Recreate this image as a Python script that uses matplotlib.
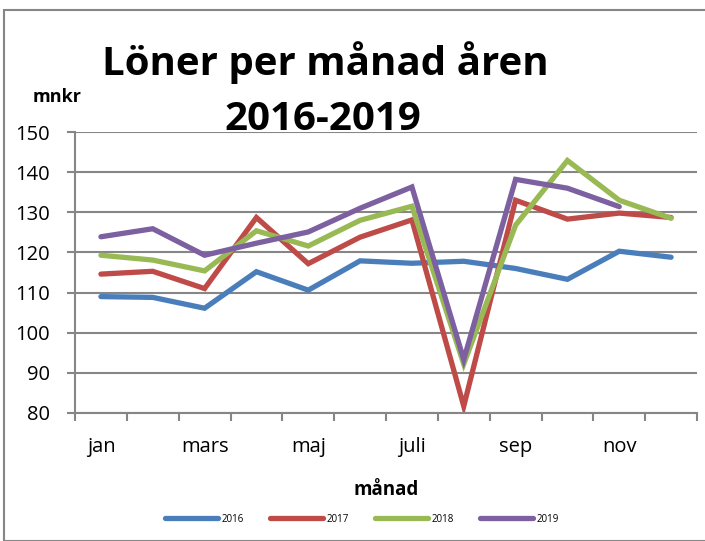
import numpy as np
import matplotlib
matplotlib.use("Agg")
import matplotlib.pyplot as plt
from matplotlib.patches import Rectangle

months = ["jan", "feb", "mars", "april", "maj", "juni", "juli", "aug", "sep", "okt", "nov", "dec"]
shown_labels = ["jan", "", "mars", "", "maj", "", "juli", "", "sep", "", "nov", ""]
years = ["2016", "2017", "2018", "2019"]
v2016 = [109.0, 108.8, 106.1, 115.2, 110.6, 117.9, 117.3, 117.8, 116.0, 113.3, 120.3, 118.8]
v2017 = [114.6, 115.3, 111.0, 128.7, 117.2, 123.8, 128.1, 81.7, 133.0, 128.3, 129.8, 128.7]
v2018 = [119.3, 118.1, 115.4, 125.4, 121.6, 128.0, 131.5, 92.2, 126.8, 142.9, 133.0, 128.5]
v2019 = [123.9, 125.9, 119.3, 122.3, 125.1, 131.0, 136.3, 93.3, 138.2, 136.0, 131.4, np.nan]
colors = ["#4A7EBB", "#BE4B48", "#98B954", "#7D60A0"]

plt.rcParams['font.family'] = ['Open Sans', 'DejaVu Sans']

fig = plt.figure(figsize=(7.05, 5.41), dpi=100)
ax = fig.add_axes([75/705, 1-413/541, (697-75)/705, (413-132)/541])

x = np.arange(len(months))
for vals, c, lab in zip([v2016, v2017, v2018, v2019], colors, years):
    ax.plot(x, vals, color=c, lw=3.8, label=lab, solid_capstyle='round', solid_joinstyle='miter')

ax.set_xlim(-0.5, 11.5)
ax.set_ylim(80, 150)
ax.set_yticks(np.arange(80, 151, 10))
ax.yaxis.grid(True, color="#868686", lw=1.5)
ax.set_axisbelow(True)
ax.tick_params(axis='y', labelsize=14.5, length=5.8, color="#868686", width=1.5, pad=12)

ax.set_xticks(np.arange(-0.5, 12, 1))
ax.set_xticklabels([])
ax.tick_params(axis='x', which='major', length=5.8, color="#868686", width=1.5)
ax.set_xticks(x, minor=True)
ax.set_xticklabels(shown_labels, minor=True)
ax.tick_params(axis='x', which='minor', length=0, labelsize=14.5, pad=17)

for s in ['top', 'right']:
    ax.spines[s].set_visible(False)
for s in ['left', 'bottom']:
    ax.spines[s].set_color("#868686")
    ax.spines[s].set_linewidth(1.5)

ax.set_xlabel("månad", fontsize=13.5, fontweight='bold', labelpad=17)

fig.text(325/705, 1-63/541, "Löner per månad åren", fontsize=29, fontweight='bold', ha='center', va='center')
fig.text(323/705, 1-119/541, "2016-2019", fontsize=29, fontweight='bold', ha='center', va='center')
fig.text(57/705, 1-97/541, "mnkr", fontsize=13, fontweight='bold', ha='center', va='center')

fig.legend(loc='center', bbox_to_anchor=(362/705, 1-519/541), ncol=4, frameon=False,
           fontsize=7, handlelength=5.5, columnspacing=2.6, handletextpad=0.4)

fig.patches.append(Rectangle((4/705, 0), 1, 1-10/541, transform=fig.transFigure,
                             fill=False, edgecolor="#868686", lw=1.5))

fig.savefig("out.png", dpi=100)
